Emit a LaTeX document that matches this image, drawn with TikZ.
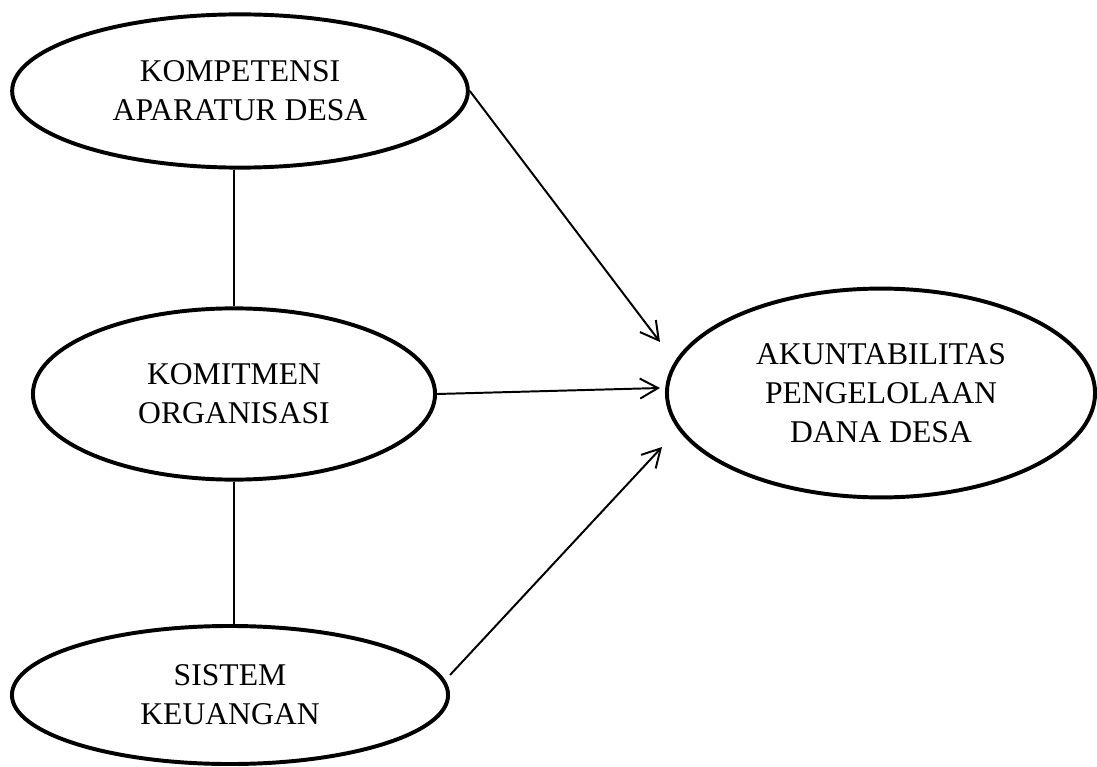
\documentclass[tikz,border=0pt]{standalone}
\usepackage{fontspec}
\setmainfont{Liberation Serif}
\usetikzlibrary{shapes.geometric,arrows.meta}

\begin{document}
\begin{tikzpicture}[x=0.025cm,y=-0.025cm]
\tikzstyle{var}=[draw,shape=ellipse,line width=2.8pt,inner sep=0pt,align=center,font=\fontsize{22.5}{27.7}\selectfont]
\tikzstyle{link}=[line width=1.4pt]
\tikzstyle{panah}=[line width=1.4pt,-{Straight Barb[length=4.5mm,width=5mm]}]
\useasboundingbox (0,0) rectangle (1097,767);

\path (240,91) node[var,minimum width=11.39cm,minimum height=3.83cm](komp){KOMPETENSI\\APARATUR DESA};
\path (234,394) node[var,minimum width=10.05cm,minimum height=4.28cm](komi){KOMITMEN\\ORGANISASI};
\path (230,695) node[var,minimum width=10.9cm,minimum height=3.45cm](sis){SISTEM\\KEUANGAN};
\path (881,393) node[var,minimum width=10.7cm,minimum height=5.22cm](akun){AKUNTABILITAS\\PENGELOLAAN\\DANA DESA};

\path (660,342) coordinate (t1) (660,388) coordinate (t2) (662,447) coordinate (t3);

\draw[link] (komi.north) -- (komi.north |- komp.south);
\draw[link] (komi.south) -- (komi.south |- sis.north);

\draw[panah] (komp.east) -- (t1);
\draw[panah] (komi.east) -- (t2);
\draw[panah] ([yshift=0.5cm]sis.east) -- (t3);
\end{tikzpicture}
\end{document}
